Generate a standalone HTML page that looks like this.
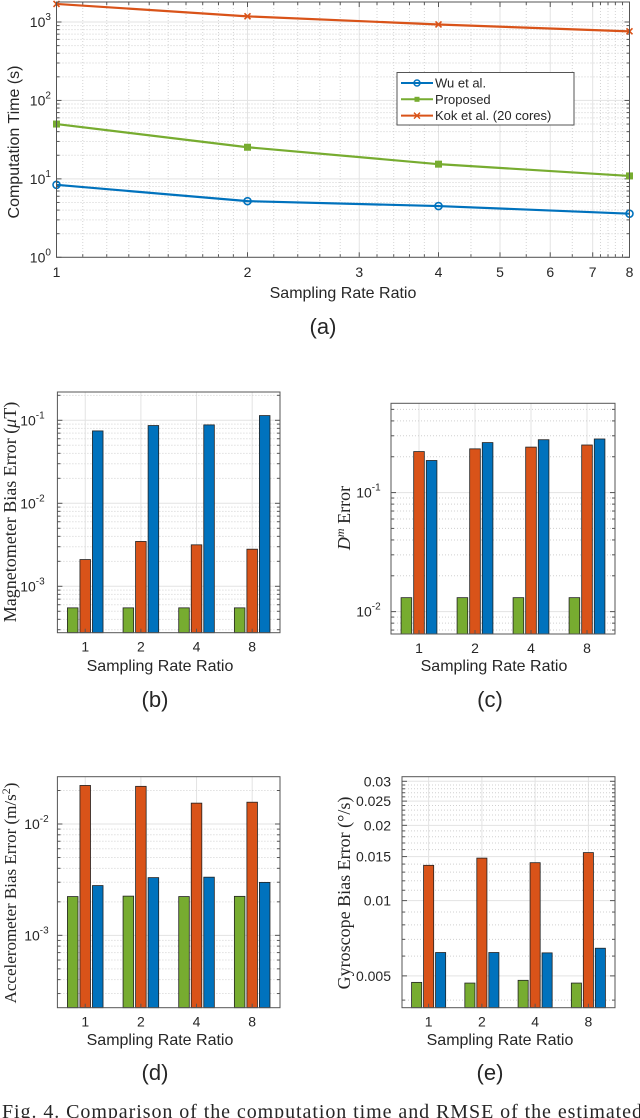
<!DOCTYPE html>
<html><head><meta charset="utf-8"><style>
html,body{margin:0;padding:0;background:#fff;}
svg{display:block;}
text{font-family:"Liberation Sans",sans-serif;fill:#262626;}
.serif{font-family:"Liberation Serif",serif;}
</style></head><body>
<svg id="fig" width="640" height="1118" viewBox="0 0 640 1118" xmlns="http://www.w3.org/2000/svg"></svg>
<script>
// ---- data ----
const ratiosA = [1, 2, 4, 8];
const wuTime = [8.4, 5.2, 4.5, 3.6];
const proposedTime = [50, 25.3, 15.4, 10.9];
const kokTime = [1700, 1180, 930, 760];
const seriesNames = ["Wu et al.", "Proposed", "Kok et al. (20 cores)"];
const barCats = ["1", "2", "4", "8"];
const magGreen = [5.5e-4, 5.5e-4, 5.5e-4, 5.5e-4];
const magOrange = [2.1e-3, 3.47e-3, 3.16e-3, 2.8e-3];
const magBlue = [0.0745, 0.0865, 0.088, 0.114];
const dmGreen = [0.0131, 0.0131, 0.0131, 0.0131];
const dmOrange = [0.221, 0.233, 0.241, 0.251];
const dmBlue = [0.186, 0.263, 0.278, 0.282];
const accGreen = [2.23e-3, 2.25e-3, 2.23e-3, 2.24e-3];
const accOrange = [0.0222, 0.0218, 0.0154, 0.0157];
const accBlue = [2.8e-3, 3.3e-3, 3.33e-3, 2.99e-3];
const gyrGreen = [0.00471, 0.00468, 0.0048, 0.00468];
const gyrOrange = [0.01384, 0.01479, 0.01418, 0.01556];
const gyrBlue = [0.0062, 0.0062, 0.00618, 0.00645];
const gyrTicks = [0.005, 0.01, 0.015, 0.02, 0.025, 0.03];
const gyrTickLabels = ["0.005", "0.01", "0.015", "0.02", "0.025", "0.03"];

const BLUE="#0072BD", ORANGE="#D95319", GREEN="#77AC30";
const NS="http://www.w3.org/2000/svg";
const svg=document.getElementById('fig');
function el(tag, attrs, parent){const e=document.createElementNS(NS,tag);for(const k in attrs)e.setAttribute(k,attrs[k]);(parent||svg).appendChild(e);return e;}
function logScale(vmin,vmax,p0,p1){const a=Math.log10(vmin),b=Math.log10(vmax);return v=>p0+(Math.log10(v)-a)/(b-a)*(p1-p0);}

function box(x0,y0,x1,y1){
  const r=el('rect',{x:x0,y:y0,width:x1-x0,height:y1-y0,fill:'#fff',stroke:'none'});
  
  
}
function frame(x0,y0,x1,y1){
  const r=el('rect',{x:x0,y:y0,width:x1-x0,height:y1-y0,fill:'none',stroke:'#555','stroke-width':1});
  
  
}
function logYGrid(y,x0,x1,ymin,ymax,yt,yb){
  for(let d=Math.floor(Math.log10(ymin));d<=Math.ceil(Math.log10(ymax));d++){
    for(let m=1;m<10;m++){
      const v=m*Math.pow(10,d);
      if(v<ymin||v>ymax)continue;
      const py=y(v);
      const g=el('line',{x1:x0,x2:x1,y1:py,y2:py,stroke:m===1?'#e3e3e3':'#d0d0d0','stroke-width':1,'stroke-dasharray':m===1?'':'1,2'});
      
      
      const len=m===1?5:3;
      el('line',{x1:x0,x2:x0+len,y1:py,y2:py,stroke:'#555'});
      el('line',{x1:x1,x2:x1-len,y1:py,y2:py,stroke:'#555'});
    }
  }
}
function powLabel(x,y,exp,name){
  const t=el('text',{x:x-(exp.length*5.6)-15.6,y:y,'text-anchor':'start','font-size':14});
  
  
  t.textContent='10';
  const s=el('tspan',{dy:-7,'font-size':10},t);s.textContent=exp;
}
function ylabel(x,y,cls,name,fs){
  const t=el('text',{x:0,y:0,transform:`translate(${x},${y}) rotate(-90)`,'text-anchor':'middle','font-size':fs||16,class:cls||''});
  
  
  return t;
}
function xlabel(x,y,name){
  const t=el('text',{x:x,y:y,'text-anchor':'middle','font-size':16});
  t.textContent='Sampling Rate Ratio';
  
  
}
function panelLabel(x,y,txt,name){
  const t=el('text',{x:x,y:y,'text-anchor':'middle','font-size':22});
  t.textContent=txt;
  
  
}

// ===== Panel (a) =====
(function(){
  const x0=56.5,x1=629.5,yt=2,yb=257.3;
  const ymin=1,ymax=Math.pow(10,3.255);
  const x=logScale(1,8,x0,x1), y=logScale(ymin,ymax,yb,yt);
  box(x0,yt,x1,yb);
  [1,2,3,4,5,6,7,8].forEach(v=>{
    const px=x(v);
    const g=el('line',{x1:px,x2:px,y1:yt,y2:yb,stroke:'#e3e3e3'});
    
    
    el('line',{x1:px,x2:px,y1:yb,y2:yb-5,stroke:'#555'});
    el('line',{x1:px,x2:px,y1:yt,y2:yt+5,stroke:'#555'});
    const t=el('text',{x:px,y:277,'text-anchor':'middle','font-size':14});
    t.textContent=String(v);
    
    
  });
  [1.1,1.2,1.3,1.4,1.5,1.6,1.7,1.8,1.9,2.2,2.4,2.6,2.8,3.2,3.4,3.6,3.8,4.5,5.5,6.5,7.2,7.4,7.6,7.8].forEach(v=>{
    const px=x(v);
    const g=el('line',{x1:px,x2:px,y1:yt,y2:yb,stroke:'#d4d4d4','stroke-dasharray':'1,2'});
    
    
    el('line',{x1:px,x2:px,y1:yb,y2:yb-3,stroke:'#555'});
    el('line',{x1:px,x2:px,y1:yt,y2:yt+3,stroke:'#555'});
  });
  logYGrid(y,x0,x1,ymin,ymax,yt,yb);
  [0,1,2,3].forEach(d=>powLabel(51,y(Math.pow(10,d))+5,String(d),'y-tick-label'));
  const series=[[wuTime,BLUE,'o'],[proposedTime,GREEN,'s'],[kokTime,ORANGE,'x']];
  series.forEach((s,i)=>{
    const pts=ratiosA.map((r,j)=>[x(r),y(s[0][j])]);
    const p=el('polyline',{points:pts.map(p=>p.join(',')).join(' '),fill:'none',stroke:s[1],'stroke-width':2.2});
    
    
    pts.forEach(pt=>{
      let m;
      if(s[2]==='o')m=el('circle',{cx:pt[0],cy:pt[1],r:3.5,fill:'none',stroke:s[1],'stroke-width':1.6});
      else if(s[2]==='s')m=el('rect',{x:pt[0]-3,y:pt[1]-3,width:6,height:6,fill:s[1],stroke:s[1]});
      else m=el('path',{d:`M${pt[0]-3},${pt[1]-3}L${pt[0]+3},${pt[1]+3}M${pt[0]-3},${pt[1]+3}L${pt[0]+3},${pt[1]-3}`,stroke:s[1],'stroke-width':1.6});
      
      
    });
  });
  frame(x0,yt,x1,yb);
  const lg=el('g',{});
  
  
  el('rect',{x:397,y:72.5,width:177,height:52.5,fill:'#fff',stroke:'#555'},lg);
  const cols=[BLUE,GREEN,ORANGE], mk=['o','s','x'];
  seriesNames.forEach((n,i)=>{
    const yy=83+i*16.3;
    const ent=el('g',{},lg);
    
    
    el('line',{x1:401,x2:433,y1:yy,y2:yy,stroke:cols[i],'stroke-width':2},ent);
    if(mk[i]==='o')el('circle',{cx:417,cy:yy,r:3,fill:'none',stroke:cols[i],'stroke-width':1.5},ent);
    else if(mk[i]==='s')el('rect',{x:414.5,y:yy-2.5,width:5,height:5,fill:cols[i]},ent);
    else el('path',{d:`M414,${yy-3}L420,${yy+3}M414,${yy+3}L420,${yy-3}`,stroke:cols[i],'stroke-width':1.4},ent);
    const t=el('text',{x:435,y:yy+4.5,'font-size':13},ent);t.textContent=n;
  });
  const yl=ylabel(19,142,'','y-axis-title',16);yl.textContent='Computation Time (s)';
  xlabel(343,298,'x-axis-title');
  panelLabel(323,334,'(a)','panel-label-a');
})();

// ===== bar panels =====
function barPanel(cfg){
  const {x0,x1,yt,yb,ymin,ymax,green,orange,blue,key}=cfg;
  const y=logScale(ymin,ymax,yb,yt);
  const gw=(x1-x0)/4;
  box(x0,yt,x1,yb);
  barCats.forEach((c,i)=>{
    const cx=x0+(i+0.5)*gw;
    const g=el('line',{x1:cx,x2:cx,y1:yt,y2:yb,stroke:'#e3e3e3'});
    
    
  });
  if(cfg.linearTicks){
    for(let v=0.004;v<=0.0305;v+=0.001){
      const py=y(v);
      const major=cfg.linearTicks.some(t=>Math.abs(t-v)<1e-6);
      const g=el('line',{x1:x0,x2:x1,y1:py,y2:py,stroke:major?'#e3e3e3':'#d0d0d0','stroke-dasharray':major?'':'1,2'});
      
      
      el('line',{x1:x0,x2:x0+(major?5:3),y1:py,y2:py,stroke:'#555'});
      el('line',{x1:x1,x2:x1-(major?5:3),y1:py,y2:py,stroke:'#555'});
    }
    cfg.linearTicks.forEach((v,i)=>{
      const t=el('text',{x:x0-11,y:y(v)+5,'text-anchor':'end','font-size':14});
      t.textContent=cfg.linearLabels[i];
      
      
    });
  } else {
    logYGrid(y,x0,x1,ymin,ymax,yt,yb);
    cfg.pows.forEach(d=>powLabel(cfg.labelX,y(Math.pow(10,d))+5,String(d),'y-tick-label'));
  }
  const sets=[[green,GREEN,'green'],[orange,ORANGE,'orange'],[blue,BLUE,'blue']];
  const bw=gw*0.19, step=gw*0.225;
  barCats.forEach((c,i)=>{
    const cx=x0+(i+0.5)*gw;
    sets.forEach((s,k)=>{
      const bx=cx+(k-1)*step-bw/2;
      const top=y(s[0][i]);
      const r=el('rect',{x:bx,y:top,width:bw,height:yb-top,fill:s[1],stroke:'#222','stroke-width':0.8});
      
      
    });
    const t=el('text',{x:cx,y:yb+19,'text-anchor':'middle','font-size':14});
    t.textContent=c;
    
    
    el('line',{x1:cx,x2:cx,y1:yb,y2:yb-4,stroke:'#555'});
  });
  frame(x0,yt,x1,yb);
}

barPanel({key:'mag',x0:57.4,x1:280,yt:392,yb:632.7,ymin:Math.pow(10,-3.559),ymax:Math.pow(10,-0.659),green:magGreen,orange:magOrange,blue:magBlue,pows:[-1,-2,-3],labelX:47});
(function(){const t=ylabel(16,512,'serif','y-axis-title-b',18);t.textContent='Magnetometer Bias Error (';
 const m=el('tspan',{'font-style':'italic'},t);m.textContent='μ';const r=el('tspan',{},t);r.textContent='T)';})();
xlabel(160,671,'x-axis-title-b');
panelLabel(155,707,'(b)','panel-label-b');

barPanel({key:'dm',x0:391,x1:615,yt:403.3,yb:634,ymin:Math.pow(10,-2.188),ymax:Math.pow(10,-0.25),green:dmGreen,orange:dmOrange,blue:dmBlue,pows:[-1,-2],labelX:383});
(function(){const t=ylabel(350,518,'serif','y-axis-title-c',18);
 const d=el('tspan',{'font-style':'italic'},t);d.textContent='D';
 const s=el('tspan',{'font-style':'italic','font-size':12,dy:-6},t);s.textContent='m';
 const r=el('tspan',{dy:6},t);r.textContent=' Error';})();
xlabel(494,671,'x-axis-title-c');
panelLabel(490,707,'(c)','panel-label-c');

barPanel({key:'acc',x0:57.4,x1:280,yt:776.7,yb:1007.7,ymin:Math.pow(10,-3.65),ymax:Math.pow(10,-1.575),green:accGreen,orange:accOrange,blue:accBlue,pows:[-2,-3],labelX:51});
(function(){const t=ylabel(16,893,'serif','y-axis-title-d',17);t.textContent='Accelerometer Bias Error (m/s';
 const s=el('tspan',{dy:-6,'font-size':12},t);s.textContent='2';const r=el('tspan',{dy:6},t);r.textContent=')';})();
xlabel(160,1045,'x-axis-title-d');
panelLabel(155,1080,'(d)','panel-label-d');

barPanel({key:'gyr',x0:402,x1:615,yt:776.7,yb:1007.7,ymin:0.00373,ymax:0.0313,green:gyrGreen,orange:gyrOrange,blue:gyrBlue,linearTicks:gyrTicks,linearLabels:gyrTickLabels});
(function(){const t=ylabel(350,893,'serif','y-axis-title-e',18);t.textContent='Gyroscope Bias Error (°/s)';})();
xlabel(500,1045,'x-axis-title-e');
panelLabel(490,1080,'(e)','panel-label-e');

(function(){const t=el('text',{x:2,y:1118,'font-size':20,class:'serif',textLength:640,lengthAdjust:'spacing'});
 t.textContent='Fig. 4.  Comparison of the computation time and RMSE of the estimated';
 
 })();
</script>
</body></html>
